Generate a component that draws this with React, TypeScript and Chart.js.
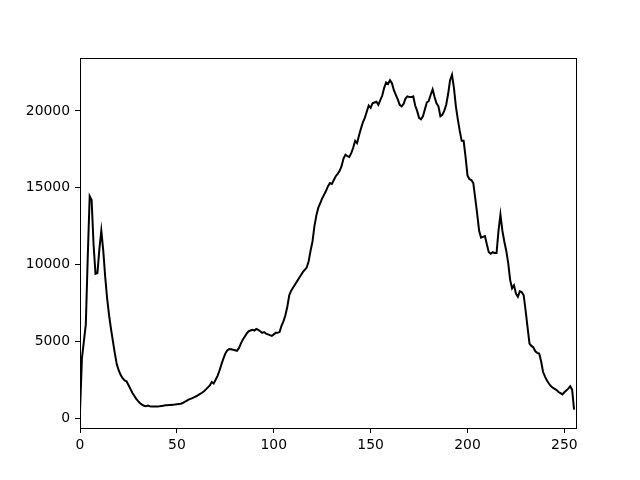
import React, { useEffect, useRef } from "react";
import { Chart, registerables } from "chart.js";

Chart.register(...registerables);

// Histogram counts for intensity bins 0..255
const counts: number[] = [
  450, 3900, 5000, 6100, 10500, 14450, 14200, 11300, 9400, 9450,
  11000, 12200, 10900, 9200, 7800, 6700, 5800, 5000, 4200, 3500,
  3100, 2800, 2600, 2450, 2400, 2150, 1900, 1650, 1450, 1250,
  1100, 970, 880, 800, 780, 820, 770, 760, 750, 760,
  760, 770, 790, 810, 830, 830, 850, 860, 870, 880,
  900, 920, 940, 980, 1050, 1120, 1200, 1250, 1300, 1370,
  1420, 1500, 1580, 1650, 1750, 1870, 2000, 2130, 2350, 2250,
  2500, 2750, 3100, 3500, 3870, 4200, 4400, 4500, 4480, 4450,
  4420, 4380, 4550, 4850, 5100, 5300, 5500, 5650, 5700, 5750,
  5700, 5800, 5750, 5650, 5550, 5600, 5500, 5450, 5400, 5350,
  5450, 5550, 5550, 5600, 6000, 6300, 6700, 7250, 8000, 8300,
  8500, 8700, 8900, 9100, 9300, 9500, 9650, 9800, 10200, 10900,
  11500, 12500, 13200, 13700, 14000, 14300, 14550, 14800, 15100, 15300,
  15250, 15500, 15750, 15900, 16100, 16400, 16900, 17150, 17050, 17000,
  17250, 17600, 18050, 17900, 18400, 18850, 19250, 19550, 19950, 20350,
  20200, 20500, 20550, 20600, 20400, 20700, 21000, 21500, 21850, 21750,
  22000, 21800, 21350, 21050, 20750, 20400, 20300, 20450, 20800, 20950,
  20900, 20900, 20950, 20350, 20000, 19550, 19450, 19650, 20100, 20550,
  20650, 21050, 21400, 20900, 20500, 20300, 19650, 19750, 20000, 20400,
  21100, 22000, 22350, 21500, 20300, 19450, 18700, 18050, 18050, 17000,
  15800, 15550, 15500, 15300, 14300, 13300, 12200, 11750, 11800, 11850,
  11300, 10800, 10700, 10800, 10750, 10750, 12200, 13250, 12200, 11500,
  10900, 10100, 9000, 8450, 8650, 8100, 7900, 8250, 8200, 8000,
  7000, 5900, 4850, 4700, 4600, 4350, 4250, 4200, 3700, 3000,
  2700, 2450, 2250, 2080, 1980, 1900, 1820, 1700, 1620, 1540,
  1680, 1800, 1920, 2070, 1850, 550,
];

const bins: number[] = counts.map((_, i) => i);
const xTicks: number[] = [0, 50, 100, 150, 200, 250];
const yTicks: number[] = [0, 5000, 10000, 15000, 20000];
const xLimits: number[] = [0, 256];

const frame = {
  id: "frame",
  afterDraw(chart: any) {
    const { ctx, chartArea } = chart;
    ctx.save();
    ctx.strokeStyle = "#000";
    ctx.lineWidth = 1;
    ctx.strokeRect(
      Math.round(chartArea.left) + 0.5,
      Math.round(chartArea.top) + 0.5,
      Math.round(chartArea.right - chartArea.left),
      Math.round(chartArea.bottom - chartArea.top)
    );
    ctx.restore();
  },
};

export default function App() {
  const ref = useRef<HTMLCanvasElement | null>(null);

  useEffect(() => {
    if (!ref.current) return;
    const lo = Math.min(...counts);
    const hi = Math.max(...counts);
    const m = (hi - lo) * 0.05;
    const font = { family: "DejaVu Sans", size: 13.9 };
    const chart = new Chart(ref.current, {
      type: "line",
      data: {
        datasets: [
          {
            data: bins.map((b, i) => ({ x: b, y: counts[i] })),
            borderColor: "#000",
            borderWidth: 2,
            pointRadius: 0,
            tension: 0,
            fill: false,
          },
        ],
      },
      options: {
        responsive: false,
        animation: false,
        devicePixelRatio: 1,
        layout: { padding: { left: 0, top: 58, right: 64, bottom: 0 } },
        plugins: { legend: { display: false }, tooltip: { enabled: false } },
        scales: {
          x: {
            type: "linear",
            min: xLimits[0],
            max: xLimits[1],
            afterBuildTicks: (axis: any) => {
              axis.ticks = xTicks.map((v) => ({ value: v }));
            },
            afterFit: (axis: any) => {
              axis.height = 52;
            },
            grid: {
              drawOnChartArea: false,
              drawTicks: true,
              tickLength: 5,
              tickColor: "#000",
              color: "#000",
            },
            border: { display: true, color: "#000", width: 1 },
            ticks: {
              color: "#000",
              font,
              padding: 4,
              maxRotation: 0,
              autoSkip: false,
              callback: (v: any) => String(v),
            },
          },
          y: {
            type: "linear",
            min: lo - m,
            max: hi + m,
            afterBuildTicks: (axis: any) => {
              axis.ticks = yTicks.map((v) => ({ value: v }));
            },
            afterFit: (axis: any) => {
              axis.width = 80;
            },
            grid: {
              drawOnChartArea: false,
              drawTicks: true,
              tickLength: 5,
              tickColor: "#000",
              color: "#000",
            },
            border: { display: true, color: "#000", width: 1 },
            ticks: {
              color: "#000",
              font,
              padding: 5,
              autoSkip: false,
              callback: (v: any) => String(v),
            },
          },
        },
      },
      plugins: [frame],
    });
    return () => chart.destroy();
  }, []);

  return (
    <div style={{ position: "absolute", left: 0, top: 0, width: 640, height: 480, background: "#fff" }}>
      <canvas ref={ref} width={640} height={480} style={{ width: 640, height: 480 }} />
    </div>
  );
}
